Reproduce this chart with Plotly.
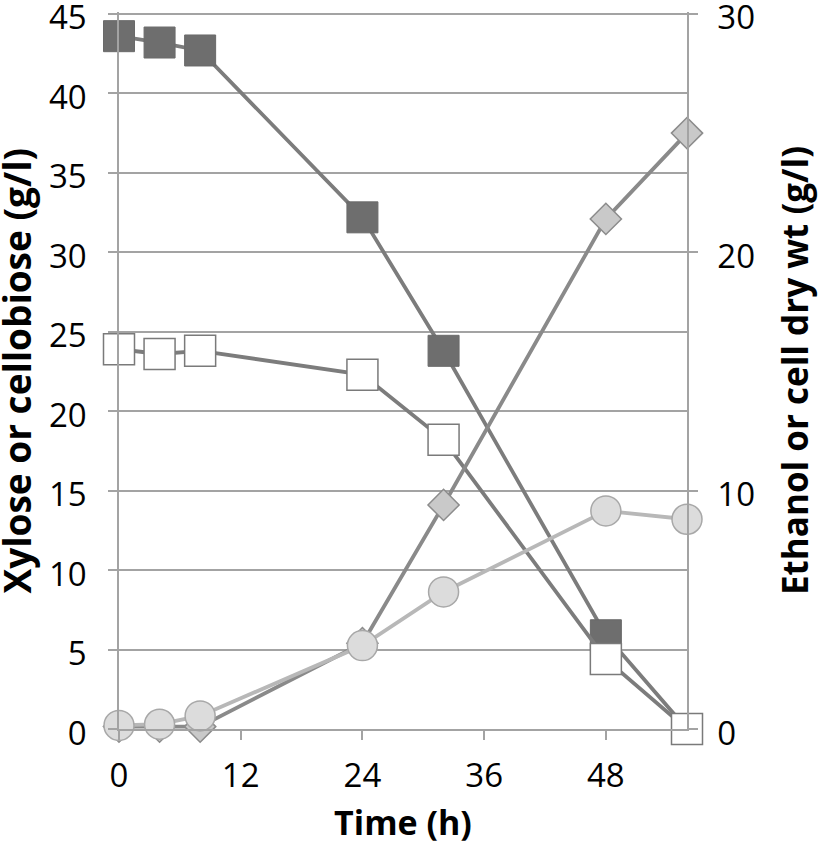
import plotly.graph_objects as go

time_h = [0, 4, 8, 24, 32, 48, 56]
cellobiose = [43.6, 43.2, 42.7, 32.2, 23.8, 5.9, 0.0]
xylose = [23.9, 23.6, 23.8, 22.3, 18.2, 4.4, 0.0]
ethanol = [0.1, 0.1, 0.1, 3.6, 9.4, 21.4, 25.0]
cell_dry_wt = [0.15, 0.2, 0.55, 3.5, 5.75, 9.15, 8.8]

x_ticks = [0, 12, 24, 36, 48]
y_left_max = 45
y_right_max = 30
headroom = 1.0027  # keeps top gridline just inside the plot area

FONT = "Open Sans"
GRID = "#a3a3a3"

fig = go.Figure()

fig.add_trace(go.Scatter(
    x=time_h, y=ethanol, yaxis="y2", mode="lines+markers", name="Ethanol",
    cliponaxis=False,
    line=dict(color="#8a8a8a", width=3.8),
    marker=dict(symbol="diamond", size=24, color="#c9c9c9",
                line=dict(color="#8c8c8c", width=1.5)),
))
fig.add_trace(go.Scatter(
    x=time_h, y=cell_dry_wt, yaxis="y2", mode="lines+markers", name="Cell dry wt",
    cliponaxis=False,
    line=dict(color="#b8b8b8", width=3.8),
    marker=dict(symbol="circle", size=30, color="#dcdcdc",
                line=dict(color="#a8a8a8", width=1.5)),
))
fig.add_trace(go.Scatter(
    x=time_h, y=cellobiose, mode="lines+markers", name="Cellobiose",
    cliponaxis=False,
    line=dict(color="#7c7c7c", width=3.8),
    marker=dict(symbol="square", size=31, color="#6e6e6e",
                line=dict(color="#6a6a6a", width=1)),
))
fig.add_trace(go.Scatter(
    x=time_h, y=xylose, mode="lines+markers", name="Xylose",
    cliponaxis=False,
    line=dict(color="#7c7c7c", width=3.8),
    marker=dict(symbol="square", size=31, color="#ffffff",
                line=dict(color="#7a7a7a", width=1.5)),
))

fig.add_annotation(
    text="<b>Xylose or cellobiose (g/l)</b>", textangle=-90,
    xref="paper", yref="paper", x=-0.1796, y=0.5,
    xanchor="center", yanchor="middle", showarrow=False,
    font=dict(family=FONT, size=37, color="black"),
)

fig.update_layout(
    width=819, height=845,
    margin=dict(l=119, r=132, t=12, b=116, autoexpand=False),
    paper_bgcolor="white", plot_bgcolor="white",
    showlegend=False,
    font=dict(family=FONT, color="black", size=30),
    xaxis=dict(
        range=[0, 56], tickvals=x_ticks, ticks="outside", ticklen=9,
        tickcolor=GRID, tickwidth=1.5, showgrid=False, zeroline=False,
        showline=True, linecolor=GRID, linewidth=1.5,
        tickfont=dict(size=33), ticklabelstandoff=8, ticklabeloverflow="allow",
        title=dict(text="<b>Time (h)</b>", font=dict(size=34), standoff=17),
    ),
    yaxis=dict(
        range=[0, y_left_max * headroom], dtick=5, ticks="outside", ticklen=9,
        tickcolor=GRID, tickwidth=1.5, showgrid=True, gridcolor=GRID,
        gridwidth=1.5, zeroline=False, showline=True, linecolor=GRID,
        linewidth=1.5, tickfont=dict(size=33), ticklabelstandoff=15,
        ticklabelshift=4, ticklabeloverflow="allow",
    ),
    yaxis2=dict(
        range=[0, y_right_max * headroom], dtick=10, overlaying="y", side="right",
        ticks="outside", ticklen=9, tickcolor=GRID, tickwidth=1.5,
        showgrid=False, zeroline=False, showline=True, linecolor=GRID,
        linewidth=1.5, tickfont=dict(size=33), ticklabelstandoff=13,
        ticklabelshift=4, ticklabeloverflow="allow",
        title=dict(text="<b>Ethanol or cell dry wt (g/l)</b>", font=dict(size=35), standoff=29),
    ),
)

fig.write_html("out.html", config={"displayModeBar": False},
               post_script="document.body.style.margin='0px';")
